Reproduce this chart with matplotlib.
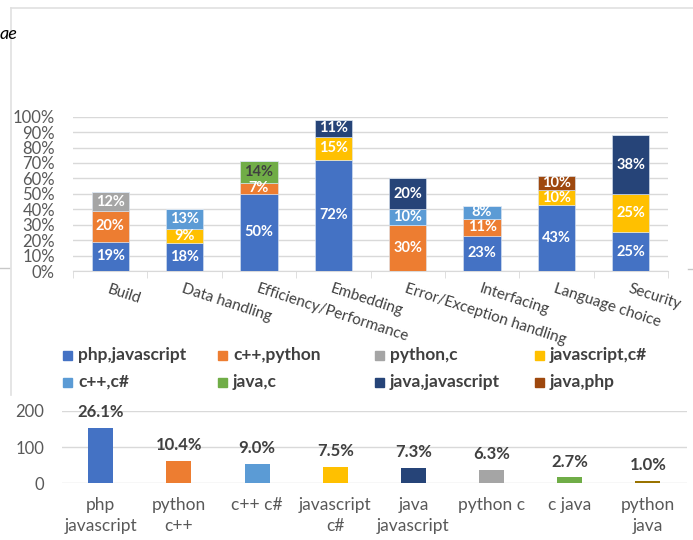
import matplotlib
matplotlib.use("Agg")
import matplotlib.pyplot as plt
from matplotlib.lines import Line2D
from matplotlib.patches import Rectangle
from matplotlib.ticker import FixedLocator, PercentFormatter

plt.rcParams['font.family'] = ['Lato', 'DejaVu Sans']

# ---- top chart: share of language pairs per topic (%)
topics = ["Build", "Data handling", "Efficiency/Performance", "Embedding",
          "Error/Exception handling", "Interfacing", "Language choice", "Security"]
php_js = [19, 18, 50, 72, 0, 23, 42.6, 25]
cpp_py = [20, 0, 7, 0, 30, 11, 0, 0]
py_c = [12, 0, 0, 0, 0, 0, 0, 0]
js_cs = [0, 9, 0, 15, 0, 0, 9.6, 25]
cpp_cs = [0, 13, 0, 0, 10, 8, 0, 0]
java_c = [0, 0, 14, 0, 0, 0, 0, 0]
java_js = [0, 0, 0, 11, 20, 0, 0, 38]
java_php = [0, 0, 0, 0, 0, 0, 9.6, 0]

series = [
    ("php,javascript", php_js, "#4472C4"),
    ("c++,python", cpp_py, "#ED7D31"),
    ("python,c", py_c, "#A5A5A5"),
    ("javascript,c#", js_cs, "#FFC000"),
    ("c++,c#", cpp_cs, "#5B9BD5"),
    ("java,c", java_c, "#70AD47"),
    ("java,javascript", java_js, "#264478"),
    ("java,php", java_php, "#9E480E"),
]

# ---- bottom chart: number of pairs overall
pairs = ["php\njavascript", "python\nc++", "c++ c#", "javascript\nc#",
         "java\njavascript", "python c", "c java", "python\njava"]
pair_counts = [152, 61, 52, 44, 42, 37, 16, 6]
pair_share = [26.1, 10.4, 9.0, 7.5, 7.3, 6.3, 2.7, 1.0]
pair_colors = ["#4472C4", "#ED7D31", "#5B9BD5", "#FFC000",
               "#264478", "#A5A5A5", "#70AD47", "#997300"]

W, H = 693, 540
fig = plt.figure(figsize=(W / 100, H / 100), dpi=100)

grid_c = "#D9D9D9"
tick_c = "#595959"
dark = "#404040"

# top axes
ax = fig.add_axes([73 / W, 1 - 271 / H, 595 / W, 154.3 / H])
x = list(range(len(topics)))
bottom = [0] * len(topics)
for name, vals, col in series:
    ax.bar(x, vals, 0.5, bottom=bottom, color=col, edgecolor="#DCE6F2",
           linewidth=0.4, zorder=3)
    for i, v in enumerate(vals):
        if v > 0:
            tc = dark if name == "java,c" else "white"
            ax.text(i, bottom[i] + v / 2, f"{v:.0f}%", ha="center", va="center",
                    color=tc, fontsize=10.5, fontweight="bold", zorder=4)
    bottom = [b + v for b, v in zip(bottom, vals)]

ax.set_xlim(-0.5, len(topics) - 0.5)
ax.set_ylim(0, 100)
ax.yaxis.set_major_locator(FixedLocator(range(0, 101, 10)))
ax.yaxis.set_major_formatter(PercentFormatter(decimals=0))
ax.grid(axis="y", color=grid_c, linewidth=1, zorder=0)
for s in ["top", "right", "left"]:
    ax.spines[s].set_visible(False)
ax.spines["bottom"].set_color(grid_c)
ax.tick_params(axis="y", length=0, pad=13, labelsize=12, labelcolor=tick_c)
ax.set_xticks(x)
ax.set_xticklabels(topics, rotation=-18, ha="left", va="top",
                   rotation_mode="anchor", fontsize=11, color=dark)
ax.tick_params(axis="x", which="major", length=0, pad=8)
ax.set_xticks([i - 0.5 for i in range(len(topics) + 1)], minor=True)
ax.tick_params(axis="x", which="minor", length=5, color=grid_c)

# legend drawn as a grid of swatches
for k, (name, vals, col) in enumerate(series):
    r, c = divmod(k, 4)
    lx = [63, 218, 375, 535][c]
    ly = [355, 382][r]
    fig.add_artist(Rectangle((lx / W, 1 - (ly + 4.5) / H), 9 / W, 9 / H,
                             transform=fig.transFigure, color=col))
    fig.text((lx + 15) / W, 1 - ly / H, name, ha="left", va="center",
             fontsize=12.5, fontweight="bold", color=dark)

# bottom axes
bx = fig.add_axes([61.7 / W, 1 - 483.3 / H, 625.3 / W, 72.6 / H])
xb = list(range(len(pairs)))
bx.bar(xb, pair_counts, 0.32, color=pair_colors, zorder=3)
for i, (cnt, sh) in enumerate(zip(pair_counts, pair_share)):
    bx.annotate(f"{sh:.1f}%", (i, cnt), xytext=(0, 11.5),
                textcoords="offset points", ha="center", va="center",
                fontsize=12, fontweight="bold", color=dark, annotation_clip=False)
bx.set_xlim(-0.5, len(pairs) - 0.5)
bx.set_ylim(0, 200)
bx.set_yticks([0, 100, 200])
bx.grid(axis="y", color=grid_c, linewidth=1, zorder=0)
for s in ["top", "right", "left", "bottom"]:
    bx.spines[s].set_visible(False)
bx.set_xticks(xb)
bx.set_xticklabels(pairs, fontsize=12.5, color=tick_c, va="top", linespacing=1.4)
bx.tick_params(axis="x", length=0, pad=10)
bx.tick_params(axis="y", length=0, pad=12.5, labelsize=12, labelcolor=tick_c)

# frame and clipped pieces of the surrounding page
fc = "#E0E0E0"
fig.add_artist(Line2D([10.5 / W, 1], [1 - 8 / H] * 2, transform=fig.transFigure, color=fc, lw=1.2))
fig.add_artist(Line2D([10.5 / W] * 2, [1 - 8 / H, 1 - 395 / H], transform=fig.transFigure, color=fc, lw=1.2))
fig.add_artist(Line2D([0, 9 / W], [1 - 268 / H] * 2, transform=fig.transFigure, color="#C8C8C8", lw=1))
fig.add_artist(Line2D([688 / W, 1], [1 - 269 / H] * 2, transform=fig.transFigure, color="#C8C8C8", lw=1))
fig.text(0, 1 - 34 / H, "ae", ha="left", va="center", fontsize=13,
         style="italic", color="black")

fig.savefig("out.png", dpi=100)
